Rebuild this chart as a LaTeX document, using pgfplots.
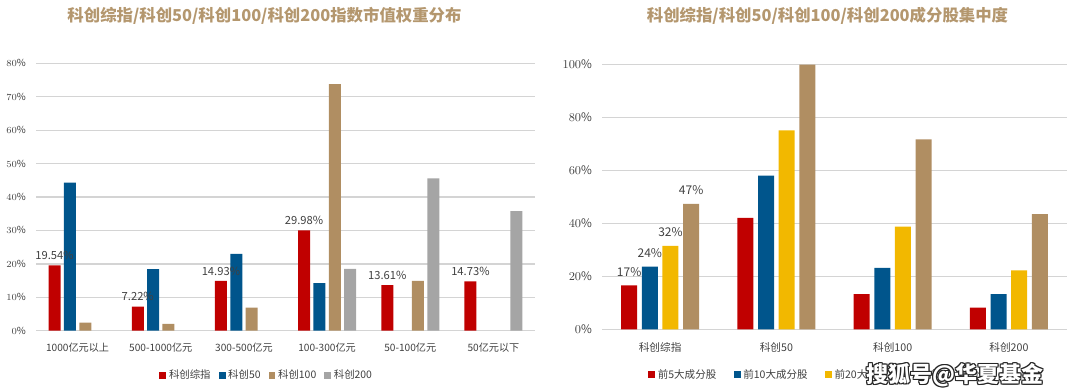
\documentclass[border=0pt]{standalone}
\usepackage{fontspec}
\setmainfont{Noto Sans CJK SC}
\usepackage{pgfplots}
\pgfplotsset{compat=1.18}
\definecolor{cred}{HTML}{C00000}
\definecolor{cblue}{HTML}{00558C}
\definecolor{ctan}{HTML}{B08E62}
\definecolor{cgray}{HTML}{A5A5A5}
\definecolor{cyel}{HTML}{F2B800}
\definecolor{ctitle}{HTML}{B4976E}
\definecolor{cgrid}{HTML}{D4D4D4}
\definecolor{ctext}{HTML}{404040}
\pgfplotsset{sqleg/.style={legend image code/.code={\fill[##1,/tikz/.cd,draw=none] (0pt,-2.6pt) rectangle (5.2pt,2.6pt);}},
  lab/.style={nodes near coords=\pgfplotspointmeta, point meta=explicit symbolic,
    every node near coord/.append style={font=\fontsize{8.4}{10}\selectfont, text=ctext, inner sep=1.5pt, yshift=2.5pt}},
  labr/.style={nodes near coords=\pgfplotspointmeta, point meta=explicit symbolic,
    every node near coord/.append style={font=\fontsize{9}{10}\selectfont, text=ctext, inner sep=1.5pt, yshift=5pt}}}
\begin{document}
\begin{tikzpicture}[x=0.75pt,y=0.75pt]
\useasboundingbox (0,0) rectangle (1080,392);
\node[font=\fontsize{12.3}{14}\selectfont\bfseries, text=ctitle] at (264.5,376.5) {科创综指/科创50/科创100/科创200指数市值权重分布};
\node[font=\fontsize{12.3}{14}\selectfont\bfseries, text=ctitle] at (827.5,376.5) {科创综指/科创50/科创100/科创200成分股集中度};
\begin{axis}[at={(27pt,46pt)}, anchor=south west, scale only axis,
  width=374.25pt, height=200.5pt,
  xmin=-0.5, xmax=5.5, ymin=0, ymax=80,
  ybar=2.5pt, bar width=9pt,
  axis x line*=bottom, axis y line*=left,
  y axis line style={draw=none}, x axis line style={cgrid, line width=1pt},
  major tick length=0pt,
  ytick={0,10,...,80}, yticklabel={\pgfmathprintnumber{\tick}\%},
  ymajorgrids, grid style={cgrid, line width=1pt},
  xtick={0,...,5},
  xticklabels={1000亿元以上,500-1000亿元,300-500亿元,100-300亿元,50-100亿元,50亿元以下},
  tick label style={text=ctext, font=\fontsize{7.6}{9}\selectfont},
  yticklabel style={xshift=-4pt, font=\fontsize{7.3}{9}\selectfont},
  xticklabel style={yshift=-6pt},
  legend style={at={(0.463,-0.125)}, anchor=north, draw=none, legend columns=4,
    font=\fontsize{7.8}{9}\selectfont, text=ctext,
    /tikz/every even column/.append style={column sep=4pt}},
  legend cell align=left,
]
\addplot[fill=cred, draw=none, sqleg, lab] coordinates {(0,19.54)[19.54\%] (1,7.22)[7.22\%] (2,14.93)[14.93\%] (3,29.98)[29.98\%] (4,13.61)[13.61\%] (5,14.73)[14.73\%]};
\addplot[fill=cblue, draw=none, sqleg] coordinates {(0,44.3) (1,18.4) (2,23.0) (3,14.2)};
\addplot[fill=ctan, draw=none, sqleg] coordinates {(0,2.4) (1,2.0) (2,6.9) (3,73.8) (4,14.9)};
\addplot[fill=cgray, draw=none, sqleg] coordinates {(3,18.5) (4,45.6) (5,35.8)};
\legend{科创综指,科创50,科创100,科创200}
\end{axis}
\begin{axis}[at={(451.5pt,47pt)}, anchor=south west, scale only axis,
  width=348.75pt, height=198.5pt,
  xmin=-0.5, xmax=3.5, ymin=0, ymax=100,
  ybar=3.5pt, bar width=12pt,
  axis x line*=bottom, axis y line*=left,
  y axis line style={draw=none}, x axis line style={cgrid, line width=1pt},
  major tick length=0pt,
  ytick={0,20,...,100}, yticklabel={\pgfmathprintnumber{\tick}\%},
  ymajorgrids, grid style={cgrid, line width=1pt},
  xtick={0,...,3},
  xticklabels={科创综指,科创50,科创100,科创200},
  tick label style={text=ctext, font=\fontsize{8}{9}\selectfont},
  yticklabel style={xshift=-4pt, font=\fontsize{8.8}{10}\selectfont},
  xticklabel style={yshift=-6pt},
  legend style={at={(0.47,-0.13)}, anchor=north, draw=none, legend columns=4,
    font=\fontsize{7.9}{9}\selectfont, text=ctext,
    /tikz/every even column/.append style={column sep=11pt}},
  legend cell align=left,
]
\addplot[fill=cred, draw=none, sqleg, labr] coordinates {(0,16.6)[17\%] (1,42.1)[] (2,13.3)[] (3,8.2)[]};
\addplot[fill=cblue, draw=none, sqleg, labr] coordinates {(0,23.7)[24\%] (1,58.1)[] (2,23.2)[] (3,13.3)[]};
\addplot[fill=cyel, draw=none, sqleg, labr] coordinates {(0,31.5)[32\%] (1,75.2)[] (2,38.8)[] (3,22.3)[]};
\addplot[fill=ctan, draw=none, sqleg, labr] coordinates {(0,47.4)[47\%] (1,100)[] (2,71.8)[] (3,43.5)[]};
\legend{前5大成分股,前10大成分股,前20大成分股,前50大成分股}
\end{axis}
\foreach \dx/\dy in {-1/0,1/0,0/-1,0/1,-0.8/-0.8,0.8/0.8,-0.8/0.8,0.8/-0.8}{
  \node[font=\fontsize{16.5}{18}\selectfont\bfseries, text=black!85] at (955+\dx,17+\dy) {搜狐号@华夏基金};
}
\node[font=\fontsize{16.5}{18}\selectfont\bfseries, text=white] at (955,17) {搜狐号@华夏基金};
\end{tikzpicture}
\end{document}
